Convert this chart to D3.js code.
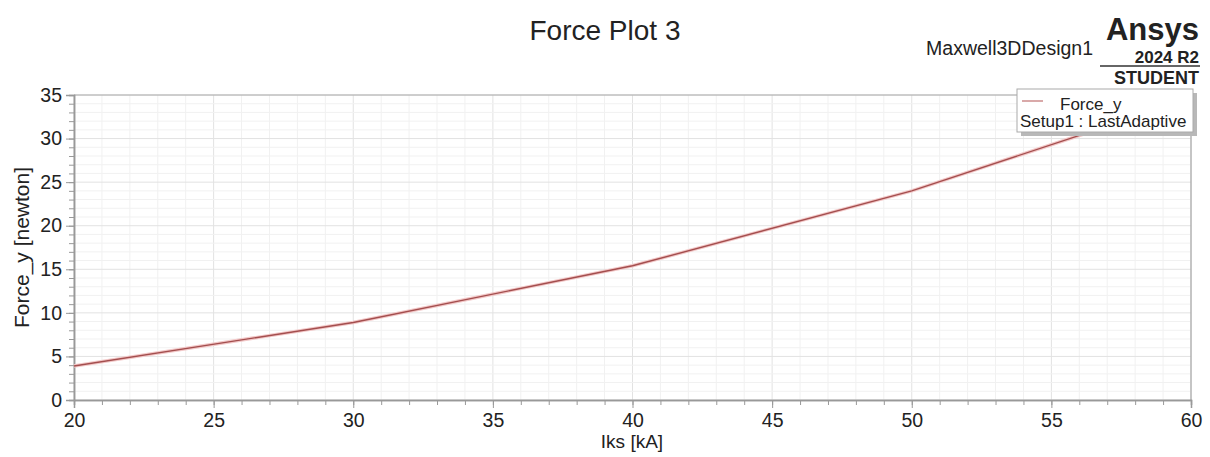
<!DOCTYPE html>
<html>
<head>
<meta charset="utf-8">
<script src="https://cdn.jsdelivr.net/npm/d3@7"></script>
<style>
  body { margin: 0; background: #fff; }
  text { font-family: "Liberation Sans", Arial, sans-serif; fill: #222; }
</style>
</head>
<body>
<div id="chart"></div>
<script>
// values
var iks = [20, 30, 40, 50, 60];
var forceY = [3.9, 8.9, 15.4, 24.0, 34.6];
var xTicks = [20, 25, 30, 35, 40, 45, 50, 55, 60];
var yTicks = [0, 5, 10, 15, 20, 25, 30, 35];

var svgWidth = 1210;
var svgHeight = 457;
var plotL = 74, plotR = 1191, plotT = 95, plotB = 400;

var svg = d3.select('#chart').append('svg')
    .attr('width', svgWidth)
    .attr('height', svgHeight);

var x = d3.scaleLinear().domain([20, 60]).range([plotL, plotR]);
var y = d3.scaleLinear().domain([0, 35]).range([plotB, plotT]);

var minorX = d3.range(20, 61, 1);
var minorY = d3.range(0, 36, 1);

// grid, light minor lines, a bit darker every 5
svg.append('g').selectAll('line')
    .data(minorX)
    .enter().append('line')
    .attr('x1', d => x(d)).attr('x2', d => x(d))
    .attr('y1', plotT).attr('y2', plotB)
    .attr('stroke', d => d % 5 == 0 ? '#e2e2e2' : '#f1f1f1')
    .attr('stroke-width', 1);

svg.append('g').selectAll('line')
    .data(minorY)
    .enter().append('line')
    .attr('x1', plotL).attr('x2', plotR)
    .attr('y1', d => y(d)).attr('y2', d => y(d))
    .attr('stroke', d => d % 5 == 0 ? '#e2e2e2' : '#f1f1f1')
    .attr('stroke-width', 1);

// frame top + right
svg.append('line').attr('x1', plotL).attr('x2', plotR).attr('y1', plotT).attr('y2', plotT)
    .attr('stroke', '#aaa');
svg.append('line').attr('x1', plotR).attr('x2', plotR).attr('y1', plotT).attr('y2', plotB)
    .attr('stroke', '#999');

// minor ticks
var xMinorAxis = svg.append('g')
    .attr('transform', 'translate(0,' + plotB + ')')
    .call(d3.axisBottom(x).tickValues(minorX).tickSize(5).tickFormat(''));
var yMinorAxis = svg.append('g')
    .attr('transform', 'translate(' + plotL + ',0)')
    .call(d3.axisLeft(y).tickValues(minorY).tickSize(5).tickFormat(''));

// major ticks with labels
var xAxis = svg.append('g')
    .attr('transform', 'translate(0,' + plotB + ')')
    .call(d3.axisBottom(x).tickValues(xTicks).tickSize(8).tickPadding(5).tickFormat(d3.format('d')));
var yAxis = svg.append('g')
    .attr('transform', 'translate(' + plotL + ',0)')
    .call(d3.axisLeft(y).tickValues(yTicks).tickSize(8).tickPadding(4).tickFormat(d3.format('d')));

[xMinorAxis, yMinorAxis, xAxis, yAxis].forEach(function (g) {
    g.selectAll('path').attr('stroke', '#999').attr('stroke-width', 1.5);
    g.selectAll('line').attr('stroke', '#999');
    g.selectAll('text')
        .style('font-family', '"Liberation Sans", Arial, sans-serif')
        .style('font-size', '19.5px')
        .attr('fill', '#222');
});

// the curve
var line = d3.line()
    .x((d, i) => x(iks[i]))
    .y(d => y(d));

svg.append('path')
    .datum(forceY)
    .attr('d', line)
    .attr('fill', 'none')
    .attr('stroke', '#f2c8c8')
    .attr('stroke-width', 3.5);
svg.append('path')
    .datum(forceY)
    .attr('d', line)
    .attr('fill', 'none')
    .attr('stroke', '#a44e4e')
    .attr('stroke-width', 1.4);

// titles
svg.append('text')
    .attr('x', 605).attr('y', 40)
    .attr('text-anchor', 'middle')
    .style('font-size', '28px')
    .text('Force Plot 3');

svg.append('text')
    .attr('x', 632).attr('y', 448)
    .attr('text-anchor', 'middle')
    .style('font-size', '19px')
    .text('Iks [kA]');

svg.append('text')
    .attr('transform', 'translate(29,' + ((plotT + plotB) / 2) + ') rotate(-90)')
    .attr('text-anchor', 'middle')
    .style('font-size', '21px')
    .text('Force_y [newton]');

// Ansys block
svg.append('text')
    .attr('x', 1093).attr('y', 55)
    .attr('text-anchor', 'end')
    .style('font-size', '19.5px')
    .text('Maxwell3DDesign1');
svg.append('text')
    .attr('x', 1199).attr('y', 40)
    .attr('text-anchor', 'end')
    .style('font-size', '31px').style('font-weight', 'bold')
    .attr('fill', '#333')
    .text('Ansys');
svg.append('text')
    .attr('x', 1199).attr('y', 63)
    .attr('text-anchor', 'end')
    .style('font-size', '17px').style('font-weight', 'bold')
    .attr('fill', '#333')
    .text('2024 R2');
svg.append('line')
    .attr('x1', 1100).attr('x2', 1200).attr('y1', 66).attr('y2', 66)
    .attr('stroke', '#333').attr('stroke-width', 1.5);
svg.append('text')
    .attr('x', 1199).attr('y', 84)
    .attr('text-anchor', 'end')
    .style('font-size', '18px').style('font-weight', 'bold')
    .attr('fill', '#333')
    .text('STUDENT');

// legend box
var lg = svg.append('g');
lg.append('rect')
    .attr('x', 1021).attr('y', 93).attr('width', 176).attr('height', 43)
    .attr('fill', '#b8b8b8');
lg.append('rect')
    .attr('x', 1017).attr('y', 89).attr('width', 176).attr('height', 43)
    .attr('fill', '#fff').attr('stroke', '#aaa');
lg.append('line')
    .attr('x1', 1022).attr('x2', 1043).attr('y1', 101).attr('y2', 101)
    .attr('stroke', '#c07070').attr('stroke-width', 1.2);
lg.append('text')
    .attr('x', 1060).attr('y', 110)
    .style('font-size', '17px')
    .text('Force_y');
lg.append('text')
    .attr('x', 1020).attr('y', 127)
    .style('font-size', '17px')
    .text('Setup1 : LastAdaptive');
</script>
</body>
</html>
